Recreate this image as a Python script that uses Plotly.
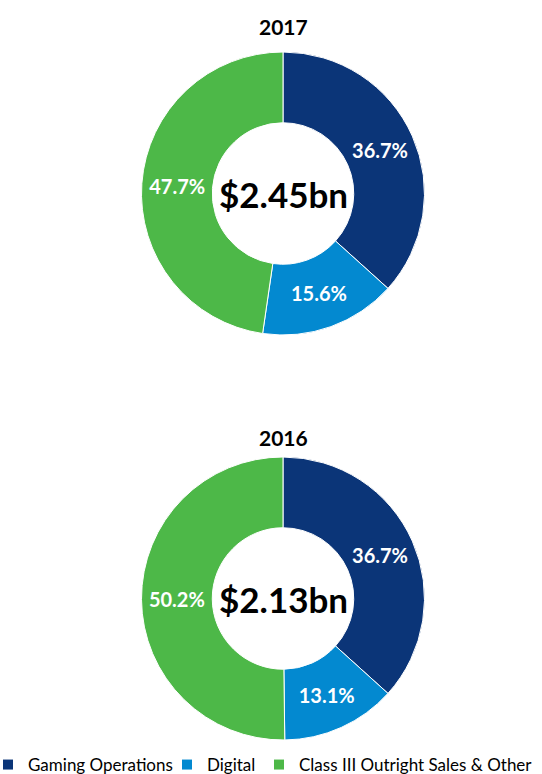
import plotly.graph_objects as go

categories = ["Gaming Operations", "Digital", "Class III Outright Sales & Other"]
values_2017 = [36.7, 15.6, 47.7]
values_2016 = [36.7, 13.1, 50.2]
years = ["2017", "2016"]
totals = ["$2.45bn", "$2.13bn"]
colors = ["#0B3578", "#0389D0", "#4DB848"]

W, H = 542, 774
FONT = "Lato, 'Open Sans', sans-serif"

def px_x(x):
    return x / W

def px_y(y):
    return 1 - y / H

fig = go.Figure()

domains = [
    dict(x=[px_x(141.5), px_x(424.5)], y=[px_y(335), px_y(52)]),
    dict(x=[px_x(141.5), px_x(424.5)], y=[px_y(740), px_y(457)]),
]

for i, vals in enumerate([values_2017, values_2016]):
    fig.add_trace(go.Pie(
        labels=categories,
        values=vals,
        hole=0.5,
        sort=False,
        direction="clockwise",
        rotation=0,
        domain=domains[i],
        marker=dict(colors=colors, line=dict(color="white", width=1)),
        texttemplate="%{value:.1f}%",
        textposition="inside",
        insidetextorientation="horizontal",
        textfont=dict(family=FONT, size=20, color="white", weight="bold"),
        showlegend=False,
        hoverinfo="label+percent",
    ))

# legend entries (one legend per category so spacing can follow the reference)
legend_text_x = [28, 207, 299]
legend_names = ["legend", "legend2", "legend3"]
for cat, col, lg in zip(categories, colors, legend_names):
    fig.add_trace(go.Scatter(
        x=[None], y=[None], mode="markers", name=cat,
        marker=dict(symbol="square", size=10, color=col),
        legend=lg, showlegend=True, hoverinfo="skip",
    ))

legend_common = dict(
    orientation="h", yanchor="middle", y=px_y(765), xanchor="left",
    font=dict(family=FONT, size=17, color="black"),
    bgcolor="rgba(0,0,0,0)", itemwidth=30,
)
layout_legends = {}
for lg, tx in zip(legend_names, legend_text_x):
    layout_legends[lg] = dict(legend_common, x=px_x(tx - 40))

annotations = []
centers_y = [193.5, 598.5]
title_y = [26, 437]
for i in range(2):
    annotations.append(dict(
        text=f"<b>{years[i]}</b>", x=px_x(283), y=px_y(title_y[i]),
        xref="paper", yref="paper", showarrow=False,
        font=dict(family=FONT, size=21, color="black"),
        xanchor="center", yanchor="middle"))
    annotations.append(dict(
        text=f"<b>{totals[i]}</b>", x=px_x(283), y=px_y(centers_y[i]),
        xref="paper", yref="paper", showarrow=False,
        font=dict(family=FONT, size=35, color="black"),
        xanchor="center", yanchor="middle"))

fig.update_layout(
    width=W, height=H,
    margin=dict(l=0, r=0, t=0, b=0, autoexpand=False),
    paper_bgcolor="white",
    plot_bgcolor="white",
    annotations=annotations,
    xaxis=dict(visible=False),
    yaxis=dict(visible=False),
    **layout_legends,
)

fig.write_html(
    "out.html",
    config={"displayModeBar": False},
    post_script="document.body.style.margin='0';document.body.style.overflow='hidden';",
)
